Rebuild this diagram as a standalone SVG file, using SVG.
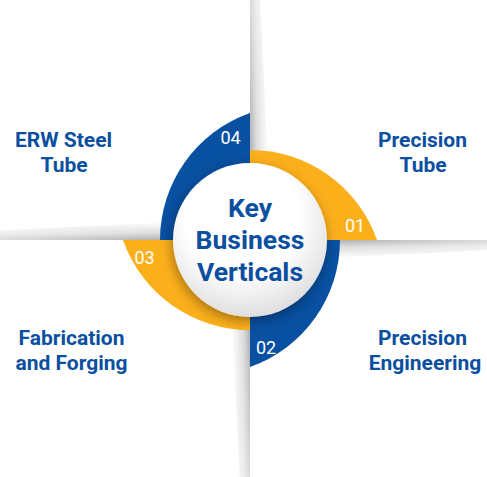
<svg xmlns="http://www.w3.org/2000/svg" width="487" height="477" viewBox="0 0 487 477">
  <style>
    .label { font-family: Roboto, "Liberation Sans", sans-serif; font-weight: 700; font-size: 21px; fill: #0B4FA0; text-anchor: middle; }
    .hub { font-family: Roboto, "Liberation Sans", sans-serif; font-weight: 700; font-size: 26.5px; fill: #0B4FA0; text-anchor: middle; }
    .num { font-family: Roboto, "Liberation Sans", sans-serif; font-weight: 400; font-size: 18px; fill: #ffffff; text-anchor: middle; }
    .blue { fill: #0850A1; }
    .orange { fill: #FBAF1B; }
  </style>
  <defs>
    <!-- soft fold shadow beside each divider, drawn pointing up from the hub -->
    <linearGradient id="foldAcross" gradientUnits="userSpaceOnUse" x1="0" y1="0" x2="18" y2="0">
      <stop offset="0" stop-color="#000" stop-opacity="0.30"/>
      <stop offset="0.35" stop-color="#000" stop-opacity="0.14"/>
      <stop offset="1" stop-color="#000" stop-opacity="0"/>
    </linearGradient>
    <linearGradient id="foldAlong" gradientUnits="userSpaceOnUse" x1="0" y1="-100" x2="0" y2="-250">
      <stop offset="0" stop-color="#fff"/>
      <stop offset="1" stop-color="#fff" stop-opacity="0.45"/>
    </linearGradient>
    <mask id="foldMask" maskUnits="userSpaceOnUse" x="-10" y="-270" width="40" height="280">
      <rect x="-10" y="-270" width="40" height="280" fill="url(#foldAlong)"/>
    </mask>
    <g id="fold">
      <path d="M0,-60 L19,-60 L9,-262 L0,-262 Z" fill="url(#foldAcross)" mask="url(#foldMask)"/>
    </g>
    <radialGradient id="hubFill" cx="0.45" cy="0.35" r="0.68">
      <stop offset="0.55" stop-color="#ffffff"/>
      <stop offset="1" stop-color="#dcdcdc"/>
    </radialGradient>
    <filter id="hubShadow" x="-30%" y="-30%" width="160%" height="160%">
      <feDropShadow dx="-1" dy="4" stdDeviation="6" flood-color="#000" flood-opacity="0.35"/>
    </filter>
  </defs>

  <!-- divider shadows -->
  <g id="dividers">
    <use href="#fold" transform="translate(250,240)"/>
    <use href="#fold" transform="translate(250,240) rotate(90)"/>
    <use href="#fold" transform="translate(250,240) rotate(180)"/>
    <use href="#fold" transform="translate(250,240) rotate(270)"/>
  </g>

  <!-- pinwheel segments -->
  <g id="seg-01">
    <path class="orange" d="M250,240 L250,150 A134.6,134.6 0 0 1 377,240 Z"/>
    <text class="num" x="355" y="232">01</text>
  </g>
  <g id="seg-02">
    <path class="blue" d="M250,240 L340,240 A134.6,134.6 0 0 1 250,367 Z"/>
    <text class="num" x="266" y="353.5">02</text>
  </g>
  <g id="seg-03">
    <path class="orange" d="M250,240 L250,330 A134.6,134.6 0 0 1 123,240 Z"/>
    <text class="num" x="144.5" y="264">03</text>
  </g>
  <g id="seg-04">
    <path class="blue" d="M250,240 L160,240 A134.6,134.6 0 0 1 250,113 Z"/>
    <text class="num" x="230.5" y="143.5">04</text>
  </g>

  <!-- central hub -->
  <g id="hub">
    <circle cx="250" cy="240" r="77" fill="url(#hubFill)" filter="url(#hubShadow)"/>
    <text class="hub" x="250" y="216.7">Key</text>
    <text class="hub" x="250" y="248.5">Business</text>
    <text class="hub" x="250" y="280.5">Verticals</text>
  </g>

  <!-- quadrant labels -->
  <g id="precision-tube">
    <text class="label" x="422.5" y="146.5">Precision</text>
    <text class="label" x="423" y="171.5">Tube</text>
  </g>
  <g id="erw-steel-tube">
    <text class="label" x="63.5" y="146.5">ERW Steel</text>
    <text class="label" x="64" y="171.5">Tube</text>
  </g>
  <g id="fabrication-forging">
    <text class="label" x="71.5" y="345">Fabrication</text>
    <text class="label" x="71.5" y="370">and Forging</text>
  </g>
  <g id="precision-engineering">
    <text class="label" x="422.5" y="345">Precision</text>
    <text class="label" x="425" y="370">Engineering</text>
  </g>
</svg>
